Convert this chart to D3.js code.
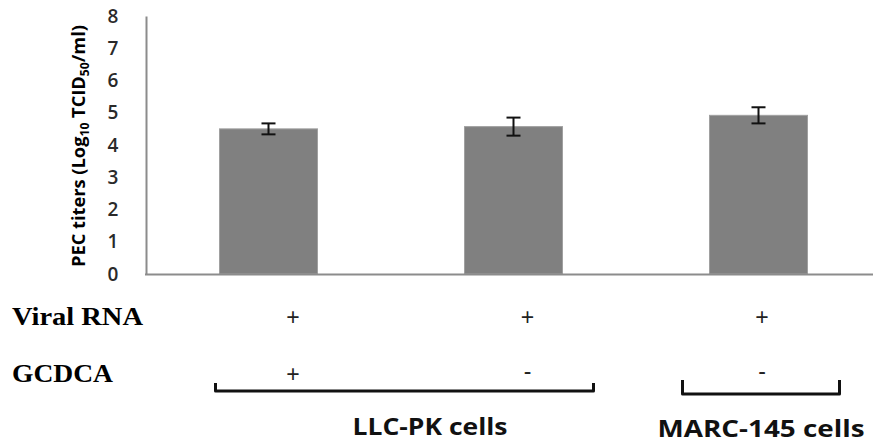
<!DOCTYPE html>
<html><head><meta charset="utf-8">
<script src="https://cdn.jsdelivr.net/npm/d3@7"></script>
<style>html,body{margin:0;padding:0;background:#fff;}svg{display:block;}</style>
</head><body>
<script>
const categories = ["LLC-PK GCDCA+", "LLC-PK GCDCA-", "MARC-145"];
const values = [4.5, 4.57, 4.92];
const errors = [0.17, 0.28, 0.25];
const yTicks = [0, 1, 2, 3, 4, 5, 6, 7, 8];
const rowLabels = ["Viral RNA", "GCDCA"];
const viralRNA = ["+", "+", "+"];
const gcdca = ["+", "-", "-"];
const groups = [
  {label: "LLC-PK cells", cats: ["LLC-PK GCDCA+", "LLC-PK GCDCA-"]},
  {label: "MARC-145 cells", cats: ["MARC-145"]}
];

const W = 873, H = 444;
const svg = d3.select("body").append("svg").attr("width", W).attr("height", H);

const y = d3.scaleLinear().domain([0, 8]).range([274, 16]);
const x = d3.scaleBand().domain(categories).range([146, 881]).paddingInner(0.6).paddingOuter(0.3);
const bw = x.bandwidth();

// bars
svg.selectAll("rect.bar").data(categories).join("rect")
  .attr("x", d => x(d)).attr("width", bw)
  .attr("y", (d, i) => y(values[i])).attr("height", (d, i) => y(0) - y(values[i]))
  .attr("fill", "#808080").attr("stroke", "#a0a0a0").attr("stroke-width", 1);

// error bars
const eg = svg.append("g").attr("stroke", "#111").attr("stroke-width", 2);
categories.forEach((c, i) => {
  const cx = x(c) + bw / 2;
  const t = y(values[i] + errors[i]), b = y(values[i] - errors[i]);
  eg.append("line").attr("x1", cx).attr("x2", cx).attr("y1", t).attr("y2", b);
  eg.append("line").attr("x1", cx - 7).attr("x2", cx + 7).attr("y1", t).attr("y2", t);
  eg.append("line").attr("x1", cx - 7).attr("x2", cx + 7).attr("y1", b).attr("y2", b);
});

// axes
const yAxis = d3.axisLeft(y).tickValues(yTicks).tickSize(0).tickPadding(33).tickFormat(d3.format("d"));
const gy = svg.append("g").attr("transform", "translate(146,0)").call(yAxis);
gy.select(".domain").attr("stroke", "#8c8c8c").attr("stroke-width", 2);
gy.selectAll("text").attr("font-family", "'Open Sans', sans-serif").attr("font-size", 19).attr("font-weight", 600).attr("fill", "#2a2a2a").attr("text-anchor", "middle");

const xAxis = d3.axisBottom(x).tickSize(0).tickFormat("");
const gx = svg.append("g").attr("transform", "translate(0,274)").call(xAxis);
gx.select(".domain").attr("stroke", "#8c8c8c").attr("stroke-width", 2).attr("d", "M145,0.5H873");

// y title
const yt = svg.append("text")
  .attr("transform", "translate(85,146) rotate(-90)")
  .attr("text-anchor", "middle")
  .attr("textLength", 242).attr("lengthAdjust", "spacingAndGlyphs")
  .attr("font-family", "'Open Sans', sans-serif").attr("font-weight", "bold").attr("font-size", 18).attr("fill", "#000");
yt.append("tspan").text("PEC titers (Log");
yt.append("tspan").attr("font-size", 12).attr("dy", 4).text("10");
yt.append("tspan").attr("dy", -4).text(" TCID");
yt.append("tspan").attr("font-size", 12).attr("dy", 4).text("50");
yt.append("tspan").attr("dy", -4).text("/ml)");

// row labels
const rowY = [325, 382];
svg.selectAll("text.row").data(rowLabels).join("text")
  .attr("x", 12).attr("y", (d, i) => rowY[i])
  .attr("font-family", "'Liberation Serif', 'Times New Roman', serif").attr("font-weight", "bold")
  .attr("font-size", 25).attr("fill", "#000")
  .attr("textLength", (d, i) => i === 0 ? 131 : 101).attr("lengthAdjust", "spacingAndGlyphs")
  .text(d => d);

// +/- markers
const mx = d3.scalePoint().domain(categories).range([293, 762]);
[viralRNA, gcdca].forEach((arr, r) => {
  svg.selectAll("text.m" + r).data(arr).join("text")
    .attr("x", (d, i) => mx(categories[i])).attr("y", (d) => rowY[r] + (d === "-" ? -3 : 0))
    .attr("text-anchor", "middle")
    .attr("font-family", "'Liberation Sans', Arial, sans-serif").attr("font-size", 23).attr("fill", "#222")
    .text(d => d);
});

// brackets
const bracketSpec = [
  {l: -4, r: 31, top: 383, bot: 391},
  {l: -27, r: 32, top: 380, bot: 394}
];
const labelSpec = [{cx: 430, y: 435, len: 155}, {cx: 761, y: 437, len: 207}];
groups.forEach((g, gi) => {
  const s = bracketSpec[gi];
  const x0 = x(g.cats[0]) + s.l, x1 = x(g.cats[g.cats.length - 1]) + bw + s.r;
  svg.append("path")
    .attr("d", `M${x0},${s.top}V${s.bot}H${x1}V${s.top}`)
    .attr("fill", "none").attr("stroke", "#111").attr("stroke-width", 3).attr("stroke-linejoin", "round");
  svg.append("text")
    .attr("x", labelSpec[gi].cx).attr("y", labelSpec[gi].y).attr("text-anchor", "middle")
    .attr("font-family", "'Open Sans', sans-serif").attr("font-weight", "bold").attr("font-size", 23).attr("fill", "#111")
    .attr("textLength", labelSpec[gi].len).attr("lengthAdjust", "spacingAndGlyphs")
    .text(g.label);
});
</script>
</body></html>
